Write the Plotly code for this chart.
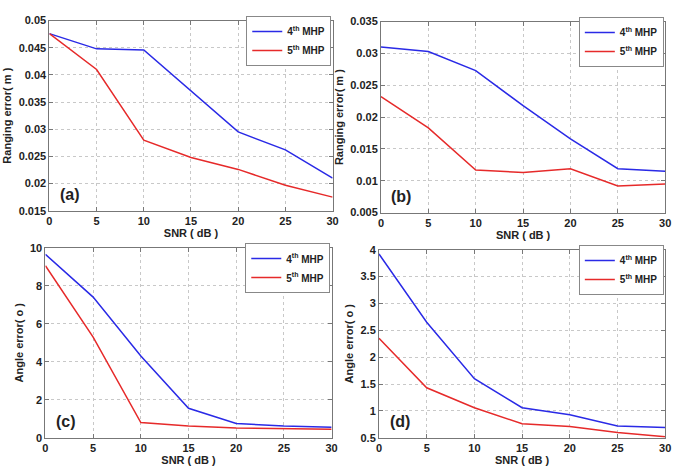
import plotly.graph_objects as go

snr = [0, 5, 10, 15, 20, 25, 30]

a_4th = [0.0476, 0.0448, 0.0446, 0.0370, 0.0295, 0.0262, 0.0210]
a_5th = [0.0476, 0.0410, 0.0280, 0.0248, 0.0226, 0.0197, 0.0175]

b_4th = [0.0310, 0.0303, 0.0273, 0.0218, 0.0166, 0.0119, 0.0115]
b_5th = [0.0232, 0.0183, 0.0117, 0.0113, 0.0119, 0.0092, 0.0095]

c_4th = [9.65, 7.40, 4.30, 1.55, 0.75, 0.62, 0.55]
c_5th = [9.05, 5.30, 0.80, 0.62, 0.52, 0.48, 0.45]

d_4th = [3.92, 2.65, 1.60, 1.06, 0.93, 0.72, 0.69]
d_5th = [2.35, 1.43, 1.06, 0.76, 0.71, 0.60, 0.52]

series_names = ["4<sup>th</sup> MHP", "5<sup>th</sup> MHP"]
panel_labels = ["(a)", "(b)", "(c)", "(d)"]
y_titles = ["Ranging error( m )", "Ranging error( m )", "Angle error( o )", "Angle error( o )"]
x_title = "SNR ( dB )"

y_ranges = [(0.015, 0.05, 0.005), (0.005, 0.035, 0.005), (0, 10, 2), (0.5, 4, 0.5)]

W, H = 685, 474
# pixel boxes: (left, right, top, bottom)
boxes = [(47, 334, 15, 210), (383, 671, 16, 212), (43, 333, 248, 443), (381, 671, 250, 443)]

BLUE = "#2a2ae6"
RED = "#e62a2a"
FONT = "Liberation Sans"

data = [(a_4th, a_5th), (b_4th, b_5th), (c_4th, c_5th), (d_4th, d_5th)]

fig = go.Figure()
layout = dict(
    width=W, height=H, margin=dict(l=0, r=0, t=0, b=0),
    paper_bgcolor="white", plot_bgcolor="white",
    font=dict(family=FONT, size=11, color="#222"),
    annotations=[],
)

for i, ((s4, s5), box, yr, yt, pl) in enumerate(zip(data, boxes, y_ranges, y_titles, panel_labels)):
    n = "" if i == 0 else str(i + 1)
    xa, ya = "x" + n, "y" + n
    lg = "legend" if i == 0 else "legend" + str(i + 1)
    fig.add_trace(go.Scatter(x=snr, y=s4, mode="lines", name=series_names[0],
                             line=dict(color=BLUE, width=1.5), xaxis=xa, yaxis=ya, legend=lg))
    fig.add_trace(go.Scatter(x=snr, y=s5, mode="lines", name=series_names[1],
                             line=dict(color=RED, width=1.5), xaxis=xa, yaxis=ya, legend=lg))
    l, r, t, b = box
    xd = [l / W, r / W]
    yd = [1 - b / H, 1 - t / H]
    layout["xaxis" + n] = dict(
        domain=xd, range=[0, 30], tick0=0, dtick=5, anchor=ya,
        showgrid=True, gridcolor="#c8c8c8", griddash="dot", gridwidth=1,
        showline=True, linecolor="#777", linewidth=1, mirror="ticks",
        ticks="inside", ticklen=4, tickcolor="#777", zeroline=False,
        tickfont=dict(family=FONT, size=11, color="#222", weight="bold"),
        title=dict(text="<b>" + x_title + "</b>", standoff=0,
                   font=dict(family=FONT, size=11, color="#222")),
    )
    layout["yaxis" + n] = dict(
        domain=yd, range=[yr[0], yr[1]], tick0=yr[0], dtick=yr[2], anchor=xa,
        showgrid=True, gridcolor="#c8c8c8", griddash="dot", gridwidth=1,
        showline=True, linecolor="#777", linewidth=1, mirror="ticks",
        ticks="inside", ticklen=4, tickcolor="#777", zeroline=False,
        tickfont=dict(family=FONT, size=11, color="#222", weight="bold"),
        title=dict(text="<b>" + yt + "</b>", standoff=4,
                   font=dict(family=FONT, size=11, color="#222")),
    )
    layout[lg] = dict(
        x=xd[1] - 0.002, y=yd[1] + 0.01, xanchor="right", yanchor="top",
        xref="paper", yref="paper",
        bgcolor="white", bordercolor="#888", borderwidth=1,
        font=dict(family=FONT, size=10, color="#222", weight="bold"),
        tracegroupgap=0, itemwidth=30,
    )
    layout["annotations"].append(dict(
        text="<b>" + pl + "</b>", x=0.03, y=0.03, xref=xa + " domain", yref=ya + " domain",
        xanchor="left", yanchor="bottom", showarrow=False,
        font=dict(family=FONT, size=16, color="#222"),
    ))

fig.update_layout(**layout)
fig.write_html("out.html", config={"displayModeBar": False},
               post_script="document.body.style.margin='0';document.body.style.overflow='hidden';")
